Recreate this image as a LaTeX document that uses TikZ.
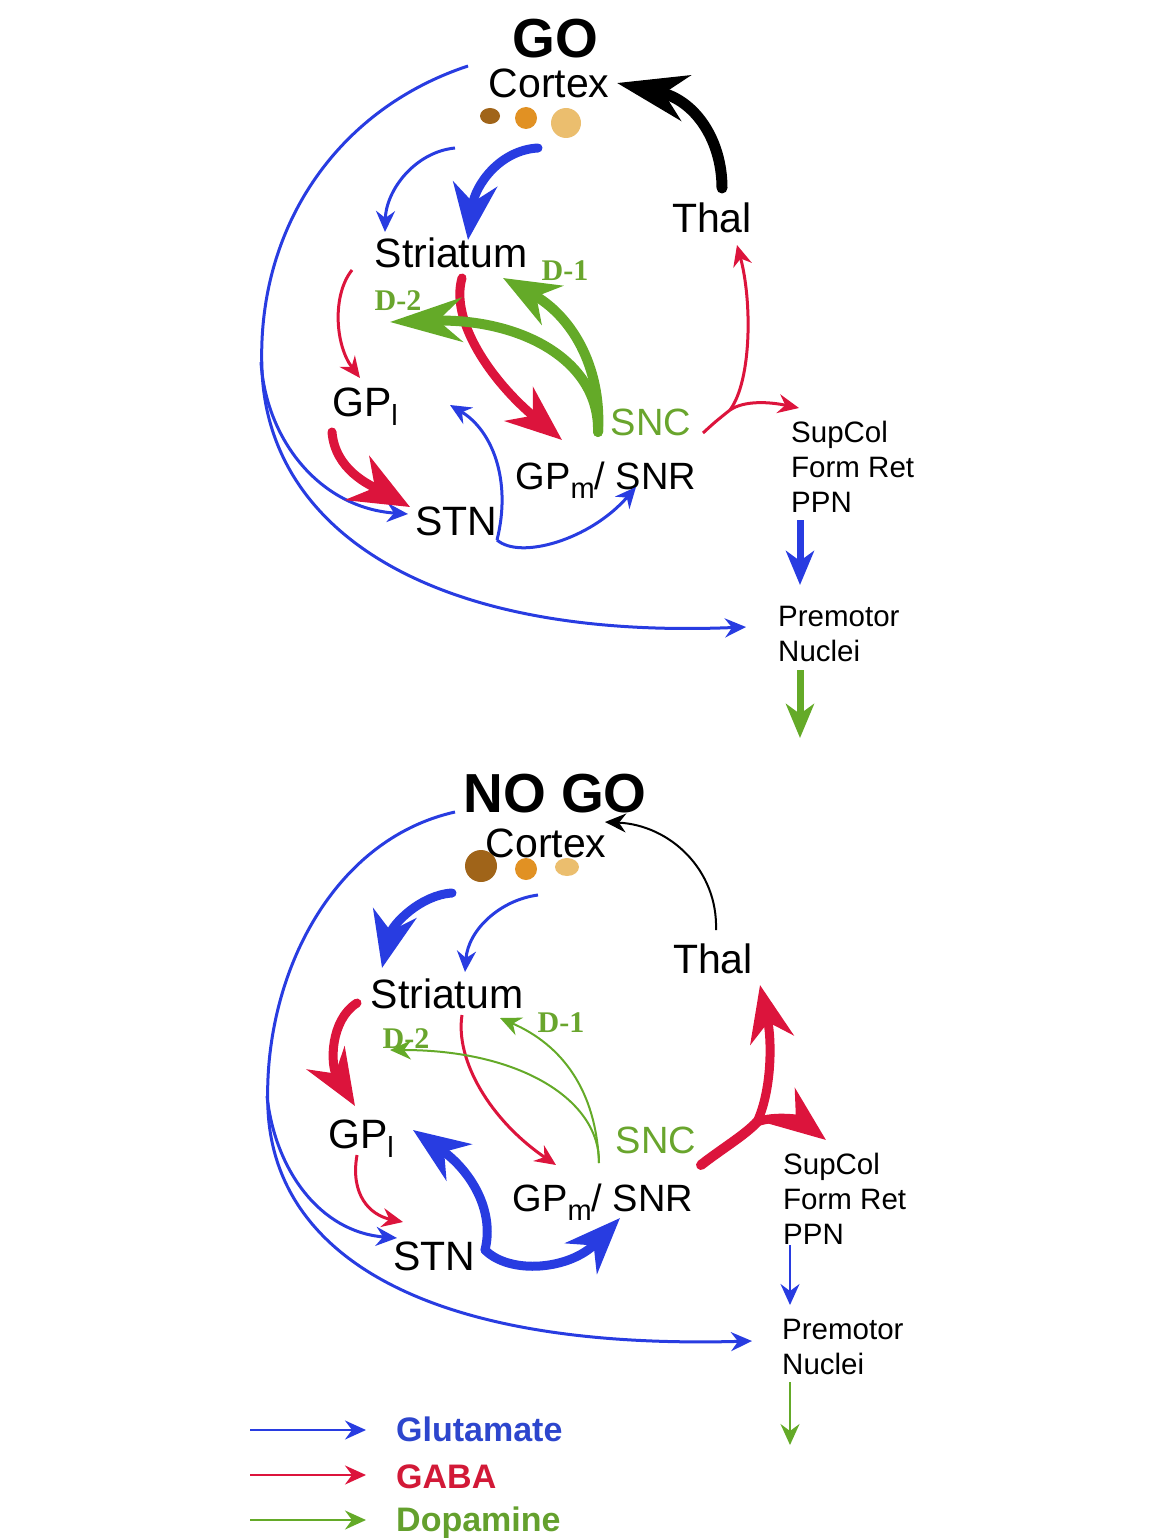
\documentclass[tikz,border=0pt]{standalone}
\usepackage{fontspec}
\setmainfont{Liberation Sans}
\newfontfamily\dlabelfont{Liberation Serif}
\usetikzlibrary{arrows.meta, calc}
\definecolor{gluBlue}{RGB}{40,60,225}
\definecolor{gabaRed}{RGB}{220,20,60}
\definecolor{dopaGreen}{RGB}{100,170,40}
\definecolor{dopaText}{RGB}{105,165,45}
\definecolor{keyBlue}{RGB}{45,70,205}
\definecolor{keyRed}{RGB}{210,25,55}
\definecolor{keyGreen}{RGB}{100,160,45}
\definecolor{dotDark}{RGB}{160,100,25}
\definecolor{dotMid}{RGB}{225,145,35}
\definecolor{dotLight}{RGB}{235,190,110}
\newcommand{\lowsub}[1]{\raisebox{-9pt}{\fontsize{29}{30}\selectfont #1}}

\begin{document}
\begin{tikzpicture}
    [
        x=1pt, y=-1pt,
        label_node/.style={inner sep=0pt, anchor=base, font=\fontsize{41}{49}\selectfont},
        title_node/.style={inner sep=0pt, anchor=base, font=\fontsize{55}{60}\selectfont\bfseries},
        small_node/.style={inner sep=0pt, anchor=north west, align=left, font=\fontsize{29.5}{35}\selectfont},
        d_node/.style={inner sep=0pt, anchor=base, text=dopaText, font=\fontsize{30}{32}\dlabelfont\bfseries},
        key_node/.style={inner sep=0pt, anchor=base west, font=\fontsize{34}{40}\selectfont\bfseries},
        thin_tip/.style={-{Stealth[length=21pt, width=19pt, inset=7pt]}},
        mid_tip/.style={-{Stealth[length=34pt, width=28pt, inset=10pt]}},
        big_tip/.style={-{Stealth[length=56pt, width=44pt, inset=18pt]}},
        glu_arrow/.style={draw=gluBlue, line width=3pt, thin_tip},
        gaba_arrow/.style={draw=gabaRed, line width=3pt, thin_tip},
        dopa_arrow/.style={draw=dopaGreen, line width=2pt, thin_tip},
        glu_thick/.style={draw=gluBlue, line width=9pt, line cap=round, big_tip},
        gaba_thick/.style={draw=gabaRed, line width=9pt, line cap=round, big_tip},
        dopa_thick/.style={draw=dopaGreen, line width=10pt, line cap=round, big_tip},
    ]
        \useasboundingbox (0,0) rectangle (1151,1538);

        \node[title_node] (go1) at (555,58) {GO};
        \node[label_node] (ctx1) at (549,98) {Cortex};
        \fill[dotDark] (490,116) ellipse (10pt and 8pt);
        \fill[dotMid] (526,118) circle (11pt);
        \fill[dotLight] (566,123) circle (15pt);
        \node[label_node] (thal1) at (712,233) {Thal};
        \node[label_node] (str1) at (451,268) {Striatum};
        \node[d_node] (d1a) at (565,280) {D-1};
        \node[d_node] (d2a) at (398,310) {D-2};
        \node[label_node] (gpl1) at (365,416) {GP\lowsub{l}};
        \node[label_node, text=dopaText, font=\fontsize{38}{44}\selectfont] (snc1) at (651,435) {SNC};
        \node[label_node, font=\fontsize{38}{44}\selectfont] (gpm1) at (606,489) {GP\lowsub{m}/ SNR};
        \node[label_node] (stn1) at (456,535) {STN};
        \node[small_node] (sup1) at (791,421) {SupCol\\Form Ret\\PPN};
        \node[small_node] (pm1) at (778,606) {Premotor\\Nuclei};
        \coordinate (br1) at (261,362);
        \coordinate (jn1) at (730,410);

        \draw[glu_arrow] ($(ctx1.base)+(-81,-32)$) .. controls (335,110) and (256,230) .. (262,370) .. controls (268,530) and (430,640) .. ($(pm1.north west)+(-32,21)$);
        \draw[glu_arrow] (br1) .. controls (266,440) and (320,508) .. ($(stn1.base)+(-48,-21)$);
        \draw[glu_arrow] ($(ctx1.base)+(-94,50)$) .. controls (415,152) and (386,190) .. ($(str1.base)+(-66,-36)$);
        \draw[glu_thick] ($(ctx1.base)+(-11,50)$) .. controls (500,150) and (475,185) .. ($(str1.base)+(17,-28)$);
        \draw[line width=11pt, line cap=round, -{Stealth[length=70pt, width=46pt, inset=22pt]}] ($(thal1.base)+(10,-45)$) .. controls (722,140) and (695,100) .. ($(ctx1.base)+(68,-15)$);
        \draw[gaba_arrow] ($(str1.base)+(-99,2)$) .. controls (332,295) and (335,345) .. ($(gpl1.base)+(-5,-38)$);
        \draw[gaba_thick] ($(str1.base)+(11,10)$) .. controls (450,320) and (490,380) .. ($(gpm1.base)+(-44,-49)$);
        \draw[dopa_thick, -{Stealth[length=72pt, width=44pt, inset=24pt]}] ($(snc1.base)+(-53,-3)$) .. controls (600,360) and (520,318) .. ($(str1.base)+(-61,54)$);
        \draw[dopa_thick] ($(snc1.base)+(-53,-3)$) .. controls (602,365) and (570,315) .. ($(str1.base)+(52,10)$);
        \draw[gaba_thick, -{Stealth[length=60pt, width=50pt, inset=20pt]}] ($(gpl1.base)+(-33,16)$) .. controls (335,470) and (370,485) .. ($(stn1.base)+(-46,-28)$);
        \draw[glu_arrow] ($(stn1.base)+(41,5)$) .. controls (512,480) and (492,430) .. ($(gpl1.base)+(85,-11)$);
        \draw[glu_arrow] ($(stn1.base)+(41,5)$) .. controls (520,560) and (590,540) .. ($(gpm1.base)+(30,-2)$);
        \draw[draw=gabaRed, line width=3pt] ($(snc1.base)+(52,-2)$) .. controls (715,422) .. (jn1);
        \draw[gaba_arrow] (jn1) .. controls (752,380) and (752,300) .. ($(thal1.base)+(25,12)$);
        \draw[gaba_arrow] (jn1) .. controls (745,400) and (770,402) .. ($(sup1.north west)+(8,-13)$);
        \draw[draw=gluBlue, line width=7pt, mid_tip] ($(sup1.north west)+(9,99)$) -- ($(pm1.north west)+(22,-21)$);
        \draw[draw=dopaGreen, line width=7pt, mid_tip] ($(pm1.north west)+(22,64)$) -- ($(pm1.north west)+(22,132)$);

        \node[title_node] (go2) at (555,812) {NO GO};
        \node[label_node] (ctx2) at (546,857) {Cortex};
        \fill[dotDark] (481,866) circle (16pt);
        \fill[dotMid] (526,869) circle (11pt);
        \fill[dotLight] (567,867) ellipse (12pt and 9pt);
        \node[label_node] (thal2) at (713,973) {Thal};
        \node[label_node] (str2) at (447,1008) {Striatum};
        \node[d_node] (d1b) at (561,1032) {D-1};
        \node[d_node] (d2b) at (406,1048) {D-2};
        \node[label_node] (gpl2) at (361,1148) {GP\lowsub{l}};
        \node[label_node, text=dopaText, font=\fontsize{38}{44}\selectfont] (snc2) at (656,1153) {SNC};
        \node[label_node, font=\fontsize{38}{44}\selectfont] (gpm2) at (603,1211) {GP\lowsub{m}/ SNR};
        \node[label_node] (stn2) at (434,1270) {STN};
        \node[small_node] (sup2) at (783,1153) {SupCol\\Form Ret\\PPN};
        \node[small_node] (pm2) at (782,1319) {Premotor\\Nuclei};
        \coordinate (br2) at (267,1096);
        \coordinate (jn2) at (757,1122);

        \draw[glu_arrow] ($(ctx2.base)+(-91,-45)$) .. controls (330,840) and (262,980) .. (268,1110) .. controls (275,1255) and (425,1350) .. ($(pm2.north west)+(-30,22)$);
        \draw[glu_arrow] (br2) .. controls (275,1170) and (320,1232) .. ($(stn2.base)+(-37,-32)$);
        \draw[glu_thick] ($(ctx2.base)+(-94,36)$) .. controls (420,895) and (392,925) .. ($(str2.base)+(-65,-40)$);
        \draw[glu_arrow] ($(ctx2.base)+(-8,38)$) .. controls (500,900) and (468,930) .. ($(str2.base)+(18,-36)$);
        \draw[line width=2pt, thin_tip] ($(thal2.base)+(3,-43)$) .. controls (718,870) and (670,825) .. ($(ctx2.base)+(59,-35)$);
        \draw[gaba_thick] ($(str2.base)+(-90,-5)$) .. controls (330,1020) and (330,1065) .. ($(gpl2.base)+(-6,-42)$);
        \draw[gaba_arrow] ($(str2.base)+(15,7)$) .. controls (455,1060) and (490,1120) .. ($(gpm2.base)+(-47,-46)$);
        \draw[dopa_arrow] ($(snc2.base)+(-57,10)$) .. controls (600,1100) and (520,1050) .. ($(str2.base)+(-57,42)$);
        \draw[dopa_arrow] ($(snc2.base)+(-57,10)$) .. controls (596,1090) and (562,1045) .. ($(str2.base)+(53,10)$);
        \draw[gaba_arrow] ($(gpl2.base)+(-4,7)$) .. controls (350,1195) and (370,1215) .. ($(stn2.base)+(-31,-48)$);
        \draw[glu_thick] ($(stn2.base)+(51,-20)$) .. controls (495,1210) and (470,1170) .. ($(gpl2.base)+(52,-18)$);
        \draw[glu_thick] ($(stn2.base)+(51,-20)$) .. controls (510,1275) and (570,1270) .. ($(gpm2.base)+(17,7)$);
        \draw[draw=gabaRed, line width=10pt, line cap=round] ($(snc2.base)+(45,12)$) .. controls (720,1150) and (745,1135) .. (jn2);
        \draw[gaba_thick] (jn2) .. controls (772,1090) and (772,1040) .. ($(thal2.base)+(47,12)$);
        \draw[gaba_thick] (jn2) .. controls (775,1115) and (800,1120) .. ($(sup2.north west)+(43,-13)$);
        \draw[glu_arrow, line width=2.2pt] ($(sup2.north west)+(7,92)$) -- ($(pm2.north west)+(8,-14)$);
        \draw[dopa_arrow, line width=2.2pt] ($(pm2.north west)+(8,63)$) -- ($(pm2.north west)+(8,126)$);

        \node[key_node, text=keyBlue] (key1) at (396,1441) {Glutamate};
        \node[key_node, text=keyRed] (key2) at (396,1488) {GABA};
        \node[key_node, text=keyGreen] (key3) at (396,1531) {Dopamine};
        \draw[glu_arrow, line width=2.2pt] ($(key1.base west)+(-146,-11)$) -- ($(key1.base west)+(-30,-11)$);
        \draw[gaba_arrow, line width=2.2pt] ($(key2.base west)+(-146,-13)$) -- ($(key2.base west)+(-30,-13)$);
        \draw[dopa_arrow, line width=2.2pt] ($(key3.base west)+(-146,-11)$) -- ($(key3.base west)+(-30,-11)$);
    \end{tikzpicture}
\end{document}
